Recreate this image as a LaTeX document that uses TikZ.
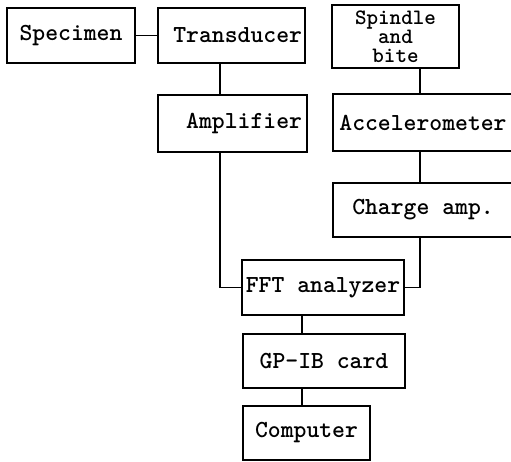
\documentclass[tikz,border=0pt]{standalone}
\begin{document}
\begin{tikzpicture}[x=1pt,y=-1pt,
  blk/.style={draw, line width=1.8pt, inner sep=0pt, align=center,
    font=\ttfamily\bfseries\fontsize{24.5}{17}\selectfont},
  wire/.style={line width=1.3pt}]
\useasboundingbox (0,0) rectangle (511,461);
\node[blk, minimum width=128pt, minimum height=55pt] (spec) at (71,35.5) {Specimen};
\node[blk, minimum width=147pt, minimum height=55pt, inner xsep=3pt, text width=141pt, align=right] (tr) at (231.5,35.5) {Transducer};
\node[blk, minimum width=127pt, minimum height=63pt, font=\ttfamily\bfseries\fontsize{22}{19}\selectfont] (sp) at (395.5,36.5) {Spindle\\and\\bite};
\node[blk, minimum width=149pt, minimum height=57pt, inner xsep=5pt, text width=139pt, align=right] (amp) at (232.5,123.5) {Amplifier};
\node[blk, minimum width=180pt, minimum height=57pt] (acc) at (423,122.5) {Accelerometer};
\node[blk, minimum width=180pt, minimum height=54pt] (chg) at (423,210) {Charge amp.};
\node[blk, minimum width=162pt, minimum height=55pt] (fft) at (323,287.5) {FFT analyzer};
\node[blk, minimum width=162pt, minimum height=54pt] (gp) at (324,361) {GP–IB card};
\node[blk, minimum width=127pt, minimum height=54pt] (comp) at (306.5,433) {Computer};
\coordinate (xa) at (220,0);
\coordinate (xb) at (420,0);
\coordinate (xc) at (302,0);
\draw[wire] (spec.east) -- (tr.west);
\draw[wire] (tr.south -| xa) -- (amp.north -| xa);
\draw[wire] (amp.south -| xa) |- (fft.west);
\draw[wire] (sp.south -| xb) -- (acc.north -| xb);
\draw[wire] (acc.south -| xb) -- (chg.north -| xb);
\draw[wire] (chg.south -| xb) |- (fft.east);
\draw[wire] (fft.south -| xc) -- (gp.north -| xc);
\draw[wire] (gp.south -| xc) -- (comp.north -| xc);
\end{tikzpicture}
\end{document}
